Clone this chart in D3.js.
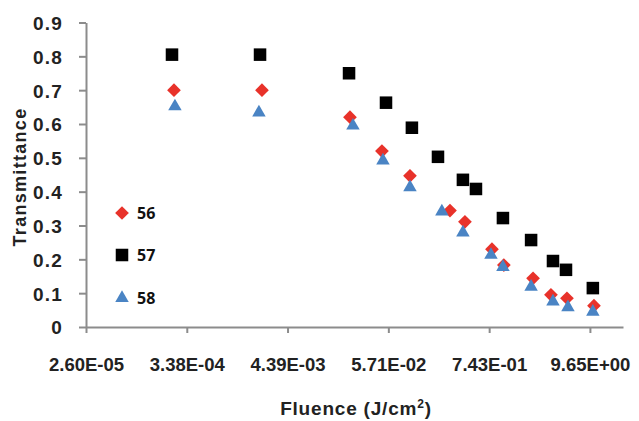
<!DOCTYPE html>
<html>
<head>
<meta charset="utf-8">
<script src="https://cdn.jsdelivr.net/npm/d3@7"></script>
<style>
  body { margin: 0; background: #fff; }
  .chart text { font-family: "Liberation Sans", Arial, sans-serif; font-weight: bold; fill: #222; }
  .chart .legend text { font-family: "Open Sans", sans-serif; font-weight: 700; fill: #111; }
</style>
</head>
<body>
<div class="chart"></div>
<script>
//tick labels on the fluence axis (log scale, base 13 steps)
let xTicks = [2.6e-5, 3.38e-4, 4.39e-3, 5.71e-2, 7.43e-1, 9.65];
let xTickLabels = ["2.60E-05", "3.38E-04", "4.39E-03", "5.71E-02", "7.43E-01", "9.65E+00"];
let yTicks = [0, 0.1, 0.2, 0.3, 0.4, 0.5, 0.6, 0.7, 0.8, 0.9];

//series 56 (red diamonds)
let fluence56 = [2.44e-4, 2.29e-3, 2.15e-2, 4.85e-2, 9.9e-2, 0.274, 0.401, 0.798, 1.08, 2.27, 3.58, 5.38, 10.7];
let trans56 = [0.70, 0.70, 0.62, 0.52, 0.447, 0.344, 0.311, 0.23, 0.183, 0.144, 0.095, 0.085, 0.063];

//series 57 (black squares)
let fluence57 = [2.32e-4, 2.18e-3, 2.10e-2, 5.38e-2, 0.104, 0.202, 0.381, 0.531, 1.055, 2.16, 3.77, 5.25, 10.4];
let trans57 = [0.805, 0.805, 0.75, 0.663, 0.589, 0.503, 0.435, 0.408, 0.322, 0.257, 0.195, 0.169, 0.115];

//series 58 (blue triangles)
let fluence58 = [2.50e-4, 2.12e-3, 2.32e-2, 4.98e-2, 9.9e-2, 0.223, 0.381, 0.778, 1.055, 2.16, 3.77, 5.52, 10.4];
let trans58 = [0.652, 0.634, 0.595, 0.492, 0.413, 0.341, 0.279, 0.213, 0.177, 0.119, 0.075, 0.058, 0.045];

let seriesNames = ["56", "57", "58"];

let chart = {};

chart.series = [
    {name: seriesNames[0], x: fluence56, y: trans56, symbol: d3.symbolDiamond2, color: "#e8322a", size: 120},
    {name: seriesNames[1], x: fluence57, y: trans57, symbol: d3.symbolSquare2, color: "#000000", size: 200},
    {name: seriesNames[2], x: fluence58, y: trans58, symbol: d3.symbolTriangle2, color: "#4a84c4", size: 130}
];

chart.svg = d3.select(".chart").append("svg")
    .attr("width", 639)
    .attr("height", 421);

//scales
chart.x = d3.scaleLog().domain([2.6e-5, 22.4]).range([86, 623]);
chart.y = d3.scaleLinear().domain([0, 0.9]).range([327, 22.5]);

//y axis
let yAxis = chart.svg.append("g")
    .attr("transform", "translate(86,0)")
    .call(d3.axisLeft(chart.y).tickValues(yTicks).tickSize(7).tickSizeOuter(0)
        .tickFormat(d => d === 0 ? "0" : d3.format(".1f")(d)));

//x axis
let xAxis = chart.svg.append("g")
    .attr("transform", "translate(0,327)")
    .call(d3.axisBottom(chart.x).tickValues(xTicks).tickSize(6).tickSizeOuter(0)
        .tickFormat((d, i) => xTickLabels[i]));

[yAxis, xAxis].forEach(a => {
    a.select(".domain").attr("stroke", "#8c8c8c").attr("stroke-width", 2);
    a.selectAll(".tick line").attr("stroke", "#8c8c8c").attr("stroke-width", 2);
});

yAxis.selectAll(".tick text")
    .attr("x", -23)
    .attr("dy", "0.36em")
    .style("font-size", "19px")
    .style("letter-spacing", "1.2px");

xAxis.selectAll(".tick text")
    .attr("y", 44)
    .attr("dy", 0)
    .style("font-size", "18.5px");

//axis titles
chart.svg.append("text")
    .attr("transform", "translate(26,177) rotate(-90)")
    .attr("text-anchor", "middle")
    .style("font-size", "18px")
    .style("letter-spacing", "1.3px")
    .text("Transmittance");

let xt = chart.svg.append("text")
    .attr("x", 356)
    .attr("y", 415)
    .attr("text-anchor", "middle")
    .style("font-size", "19px")
    .style("letter-spacing", "0.8px");
xt.append("tspan").text("Fluence (J/cm");
xt.append("tspan").attr("dy", -7).style("font-size", "12px").text("2");
xt.append("tspan").attr("dy", 7).text(")");

//points, one group per series so later series sit on top
chart.series.forEach(s => {
    chart.svg.append("g").selectAll("path")
        .data(s.x.map((v, i) => ({x: v, y: s.y[i]})))
        .enter().append("path")
        .attr("transform", d => `translate(${chart.x(d.x)},${chart.y(d.y)})`)
        .attr("d", d3.symbol().type(s.symbol).size(s.size))
        .attr("fill", s.color);
});

//legend
let legend = chart.svg.append("g").attr("class", "legend");
let legendY = [213, 255, 298];
chart.series.forEach((s, i) => {
    legend.append("path")
        .attr("transform", `translate(122,${legendY[i]})`)
        .attr("d", d3.symbol().type(s.symbol).size(s.size))
        .attr("fill", s.color);
    legend.append("text")
        .attr("x", 137)
        .attr("y", legendY[i])
        .attr("dy", "0.36em")
        .style("font-size", "16px")
        .text(s.name);
});
</script>
</body>
</html>
